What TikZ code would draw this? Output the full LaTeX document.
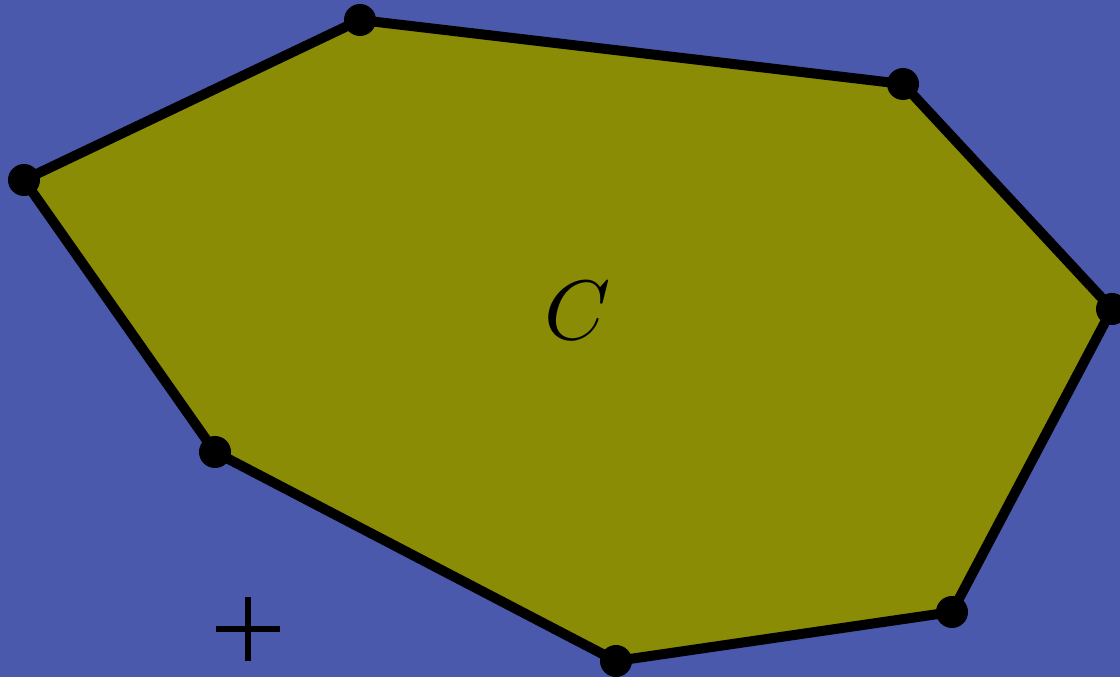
\RequirePackage{fix-cm}
\documentclass[tikz,border=0pt]{standalone}
\usepackage{tikz}
\definecolor{bgblue}{HTML}{4B59AD}
\definecolor{olive}{HTML}{8A8C05}
\tikzset{
  region/.style={fill=olive, draw=black, line width=0.2cm, line join=round},
  vertex/.style={fill=black},
  biglabel/.style={font=\fontsize{10}{12}\selectfont, inner sep=0pt, scale=4.8, transform shape},
  cross/.style={draw=black, line width=0.12cm}
}
\begin{document}
\begin{tikzpicture}
\useasboundingbox (0,0) rectangle (22.4,13.54);
\clip (0,0) rectangle (22.4,13.54);
\fill[bgblue] (0,0) rectangle (22.4,13.54);
\coordinate (p1) at (7.20,13.14);
\coordinate (p2) at (18.06,11.86);
\coordinate (p3) at (22.24,7.36);
\coordinate (p4) at (19.04,1.30);
\coordinate (p5) at (12.32,0.32);
\coordinate (p6) at (4.30,4.50);
\coordinate (p7) at (0.48,9.94);
\draw[region] (p1) -- (p2) -- (p3) -- (p4) -- (p5) -- (p6) -- (p7) -- cycle;
\foreach \p in {p1,p2,p3,p4,p5,p6,p7}
  \fill[vertex] (\p) circle (0.32);
\node[biglabel] (clabel) at (11.56,7.32) {$C$};
% origin mark
\coordinate (o) at (4.96,0.96);
\draw[cross] ([xshift=-0.64cm]o) -- ([xshift=0.64cm]o);
\draw[cross] ([yshift=-0.64cm]o) -- ([yshift=0.64cm]o);
\end{tikzpicture}
\end{document}
